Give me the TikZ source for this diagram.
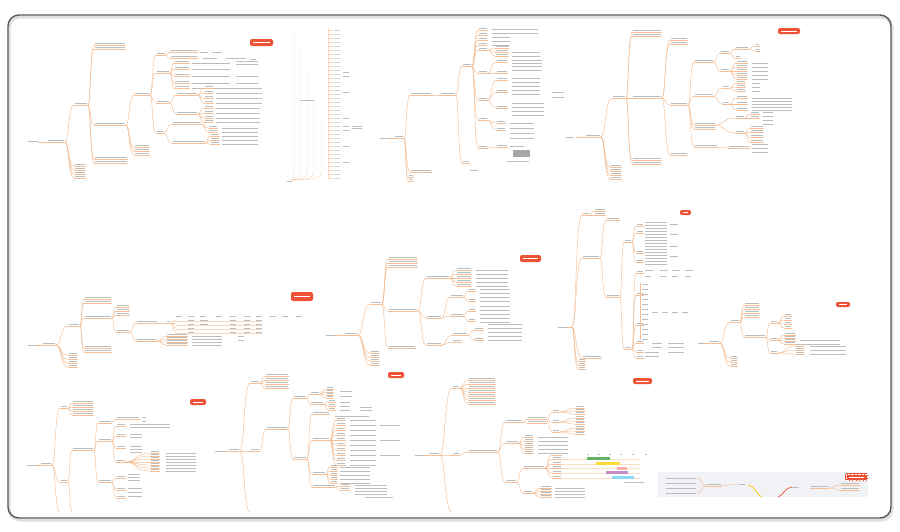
\documentclass[tikz,border=0pt]{standalone}
\usetikzlibrary{calc}
\definecolor{ol}{HTML}{F5BE94}
\definecolor{rd}{HTML}{EF5337}
\definecolor{txg}{HTML}{BDBDBD}
\definecolor{pan}{HTML}{F1F2F5}
\tikzset{
  cn/.style={draw=ol,line width=0.45pt},
  tb/.style={draw=txg,line width=0.95pt},
  frm/.style={draw=black!65,line width=1.4pt,rounded corners=11pt},
}
\newcommand\lk[4]{\draw[cn] (#1,#2) .. controls ({#1+0.45*(#3-#1)},#2) and ({#1+0.35*(#3-#1)},#4) .. (#3,#4);}
\newcommand\nd[3]{\draw[cn] (#1,#2) -- ++(#3,0); \draw[tb] ({#1+1},{#2-1.7}) -- ++({#3-2},0);}
\newcommand\tx[3]{\draw[tb] (#1,#2) -- ++(#3,0);}
\newcommand\fan[5]{\foreach \yy in {#4}{\lk{#1}{#2}{#3}{\yy}\nd{#3}{\yy}{#5}}}
\newcommand\rows[3]{\foreach \yy in {#2}{\draw[tb] (#1,\yy) -- ++(#3,0);}}
\newcommand\badge[4]{\fill[rd,rounded corners=2pt] (#1,#2) rectangle (#3,#4);
  \draw[white,line width=0.7pt] ({#1+3},{(#2+#4)/2}) -- ({#3-3},{(#2+#4)/2});}
\begin{document}
\begin{tikzpicture}[x=1pt,y=-1pt]
\useasboundingbox (0,0) rectangle (900,531);
\fill[white] (0,0) rectangle (900,531);
% frame
\draw[frm,draw=black!12,line width=3pt] (9,17) rectangle (892,520);
\draw[frm] (8,15) rectangle (891,518);

%%%%%%%% Map 1 (top-left)
\tx{28}{141}{10}
\draw[cn] (38,142) -- (47,142); \nd{47}{142}{18}
\lk{65}{142}{74}{105}\nd{74}{105}{14}
\fan{65}{142}{74}{166,170,174,178}{12}
\fan{88}{105}{94}{45,49}{32}
\fan{88}{105}{94}{125}{32}
\fan{88}{105}{94}{159,163}{34}
\fan{126}{125}{134}{95}{16}
\fan{126}{125}{134}{147,151,155}{16}
\fan{150}{95}{156}{55}{10}
\fan{150}{95}{156}{73,103}{14}
\fan{150}{95}{156}{133}{8}
\fan{166}{55}{170}{52,58}{28}
\rows{200}{52}{8}\rows{212}{52}{10}\rows{203}{58}{14}\rows{226}{58}{20}\rows{250}{59}{6}
\fan{170}{73}{174}{63,69,76,83,88}{16}
\rows{192}{63,69,76,83,88}{38}\rows{236}{61,64,76,83,88}{22}
\fan{170}{103}{176}{95,114}{22}
\fan{198}{95}{204}{88,93,98,103}{10}
\rows{216}{88,93,98,103}{46}
\fan{198}{114}{204}{108,113,118,122}{10}
\rows{216}{108,113,118,122}{44}
\fan{164}{133}{172}{124}{30}
\fan{164}{133}{172}{143}{34}
\fan{202}{124}{208}{128,132}{10}
\fan{206}{143}{210}{136,140,144}{10}
\rows{222}{128,132,136,140,144}{36}
\badge{250}{39}{273}{46}

%%%%%%%% Map 2 (faint column tree)
\tx{287}{181}{5}
\foreach \xx/\ya in {294/32,300/48,307/70,314/95,322/120}{
  \draw[cn,draw=ol!60] (291,180) .. controls (\xx,180) and (\xx,176) .. (\xx,170) -- (\xx,\ya);}
\foreach \yy in {30,34,...,178}{\draw[cn,draw=ol!60] (328,\yy)--++(5,0); \draw[tb,draw=txg!70] (334,\yy) -- ++(6,0);}
\draw[cn,draw=ol!60] (328,28) -- (328,178);
\rows{343}{72,76,92,118,126,130,146,162}{6}
\rows{352}{126,128}{10}
\tx{300}{100}{14}
\tx{380}{138}{6}

%%%%%%%% Map 3 (top middle)
\tx{383}{138}{6}
\draw[cn] (389,138) -- (394,138); \nd{394}{138}{10}
\fan{404}{138}{410}{95}{22}
\fan{404}{138}{410}{172}{22}
\fan{404}{138}{408}{177,181}{6}
\fan{432}{95}{440}{95}{16}
\fan{456}{95}{462}{66}{10}
\fan{456}{95}{462}{163}{8}
\fan{472}{66}{478}{30,35,40,45,50,73,100,120,148}{10}
\rows{492}{29,33}{46}\rows{492}{37,41,45}{18}
\fan{488}{50}{495}{48,52,56}{14}
\rows{512}{52,56}{28}
\fan{488}{73}{496}{62,73}{12}
\rows{512}{60,63,66,70}{30}
\fan{488}{100}{496}{80,92,108}{12}
\rows{512}{78,82,86,90,94}{28}
\rows{512}{103,107,111,115}{32}
\rows{552}{92,97}{12}
\fan{488}{120}{496}{123,130}{10}
\rows{510}{123,128,133,138}{24}
\fan{488}{148}{496}{147}{12}
\rows{510}{146}{14}
\fill[black!35] (513,150) rectangle (530,157);
\rows{507}{161}{22}
\tx{470}{170}{8}

%%%%%%%% Map 4 (top right)
\tx{566}{137}{8}
\draw[cn] (576,137) -- (585,137); \nd{585}{137}{16}
\fan{601}{137}{612}{98}{14}
\fan{601}{137}{610}{167,171,175,179}{12}
\fan{626}{98}{632}{32,36}{30}
\fan{626}{98}{632}{98}{30}
\fan{626}{98}{632}{160,164}{30}
\fan{662}{98}{670}{40,44,105,155}{18}
\fan{688}{105}{694}{62,96}{20}
\fan{688}{105}{694}{125,129}{22}
\fan{688}{105}{694}{147}{24}
\fan{714}{62}{720}{53,71}{10}
\fan{730}{53}{735}{49}{14}
\fan{730}{53}{735}{58}{6}
\fan{749}{49}{755}{46,51}{5}
\fan{730}{71}{736}{63,67,71,75,79}{12}
\rows{752}{63,67,71,75,79}{16}
\fan{714}{96}{722}{88,104}{8}
\fan{730}{88}{736}{83,87,91}{10}
\rows{752}{83,87,91}{8}
\fan{730}{104}{736}{98,104,110}{12}
\rows{752}{98,101,104,107,110}{40}
\fan{716}{125}{735}{118,133}{10}
\fan{745}{118}{750}{114,118}{10}
\rows{763}{112,116,120,124}{10}
\fan{745}{133}{750}{128,132,137,142}{14}
\fan{718}{147}{728}{148}{22}
\rows{752}{144,148,152}{16}
\badge{778}{28}{800}{34}

%%%%%%%% Map 5 (middle left)
\tx{28}{345}{8}
\draw[cn] (36,345) -- (42,345); \nd{42}{345}{14}
\fan{56}{345}{68}{326}{12}
\fan{56}{345}{68}{355,359,363,367}{10}
\fan{80}{326}{84}{299,303,318,348,352}{28}
\fan{112}{318}{116}{307,311,315,332}{14}
\fan{130}{332}{136}{323,341}{22}
\fan{158}{323}{166}{323}{5}
\foreach \xx in {176,188,200,216,230,244,256,270,282,296}{\draw[tb] (\xx,316) -- ++(6,0);}
\foreach \yy in {320,324,328,332}{\lk{171}{323}{176}{\yy}\foreach \xx in {188,230,244,256}{\draw[tb] (\xx,\yy) -- ++(6,0);}
  \draw[cn,draw=ol!60] (176,{\yy+1.2}) -- (262,{\yy+1.2});}
\rows{200}{320,324}{8}
\fan{158}{341}{166}{336,339,342,345}{22}
\rows{192}{336,339,342,345}{30}\rows{238}{336,340}{6}
\badge{291}{292}{313}{301}

%%%%%%%% Map 6 (middle centre)
\tx{326}{335}{8}
\draw[cn] (334,335) -- (344,335); \nd{344}{335}{14}
\fan{358}{335}{370}{304}{12}
\fan{358}{335}{370}{353,357,361,365}{10}
\fan{382}{304}{388}{259,263,267,311}{30}
\fan{382}{304}{388}{348}{28}
\fan{418}{311}{426}{278}{24}
\fan{418}{311}{426}{318,345}{16}
\fan{450}{278}{456}{270,274,278,282,286}{16}
\rows{476}{270,274,278,282,286}{32}
\fan{442}{318}{450}{297,316}{14}
\fan{464}{297}{468}{291,301}{8}
\rows{480}{289,293,297,301}{30}
\fan{464}{316}{468}{311,321}{8}
\rows{480}{306,310,314,318,322}{30}
\fan{442}{345}{452}{335}{16}
\fan{442}{345}{452}{342}{10}
\fan{468}{335}{474}{330,340}{10}
\rows{488}{324,328,332,336,340}{34}
\badge{520}{255}{541}{262}
\badge{388}{372}{404}{378}

%%%%%%%% Map 7 (middle right, tall)
\tx{558}{327}{8}
\draw[cn] (566,327) -- (572,327);
\fan{572}{327}{582}{215}{8}
\fan{572}{327}{582}{258}{18}
\fan{572}{327}{582}{358}{20}
\fan{572}{327}{578}{361,365,369}{8}
\fan{590}{215}{594}{211,215}{12}
\fan{600}{258}{606}{220,297}{14}
\fan{620}{297}{624}{242,349}{8}
\fan{632}{242}{636}{226,233,253,262}{8}
\fan{632}{349}{636}{273,295,325,343,352,358}{8}
\rows{645}{222,225,...,266}{22}
\rows{670}{224,234,246,256}{8}
\foreach \xx in {645,660,672,685}{\draw[tb] (\xx,270) -- ++(8,0); \draw[tb] (\xx,276) -- ++(6,0);}
\draw[cn] (640,283) -- (640,340);
\rows{642}{284,289,...,340}{6}
\foreach \xx in {652,662,672,682}{\draw[tb] (\xx,312) -- ++(6,0);}
\rows{652}{343,347}{10}\rows{668}{343,347,352}{16}
\rows{645}{352,356}{14}
\badge{680}{210}{691}{215}
\badge{633}{378}{652}{384}

%%%%%%%% Map 8 (far right middle)
\tx{698}{343}{6}
\draw[cn] (704,343) -- (708,343); \nd{708}{343}{12}
\fan{720}{343}{730}{322}{10}
\fan{720}{343}{730}{358,362,366}{8}
\fan{740}{322}{744}{305,309,313,317}{16}
\fan{740}{322}{744}{337}{22}
\fan{766}{337}{770}{323,340,353}{8}
\fan{778}{323}{784}{316,320,324,328}{8}
\fan{778}{340}{784}{335,338,341,344}{12}
\rows{800}{340,344}{40}
\fan{778}{353}{795}{346,350,354}{10}
\rows{810}{346,350,354}{36}
\badge{836}{302}{850}{307}

%%%%%%%% Map 9 (bottom left)
\tx{27}{465}{8}
\draw[cn] (35,465) -- (40,465); \nd{40}{465}{12}
\fan{52}{465}{60}{408,482}{8}
\lk{52}{465}{60}{512}
\fan{68}{408}{72}{403,407,411,415}{22}
\fan{68}{482}{72}{450}{22}
\lk{68}{482}{72}{512}
\fan{94}{450}{98}{423,441,482}{14}
\fan{112}{423}{116}{419}{24}
\rows{142}{417,421}{4}
\fan{112}{441}{116}{426,436,448,462}{10}
\rows{130}{424,427}{40}\rows{130}{434,437}{12}\rows{130}{446,449,452}{12}
\fan{126}{462}{150}{453,456,459,462,465,468,471}{10}
\rows{166}{453,456,459,462,465,468,471}{30}
\fan{112}{482}{116}{478,490,498}{10}
\rows{128}{474,477,480}{12}\rows{128}{488,492,496}{14}
\badge{190}{399}{206}{405}

%%%%%%%% Map 10 (bottom centre-left)
\tx{215}{451}{8}
\draw[cn] (223,451) -- (228,451); \nd{228}{451}{12}
\fan{240}{451}{250}{383,451}{10}
\lk{240}{451}{250}{512}
\fan{260}{383}{265}{376,380,384,388}{24}
\fan{260}{451}{266}{429}{22}
\fan{288}{429}{293}{398,459}{14}
\fan{307}{398}{310}{394}{10}
\fan{307}{398}{310}{404}{14}
\fan{320}{394}{326}{389,392,395,398}{8}
\rows{340}{391,396}{12}
\fan{324}{404}{328}{402,406,410}{8}
\rows{340}{402,406,410}{10}\rows{360}{407,410}{12}
\fan{307}{459}{312}{414,440}{18}
\fan{307}{459}{312}{474}{14}
\fan{307}{459}{312}{487}{24}
\rows{335}{416}{34}
\fan{330}{440}{336}{420,425,...,465}{10}
\rows{350}{420,425,...,465}{26}\rows{380}{425,440,455}{20}
\fan{326}{474}{330}{467,471,475,479,483}{8}
\rows{340}{467,471,475,479,483}{30}
\fan{336}{487}{340}{486,490}{10}
\rows{355}{485,488,491,494}{32}\rows{365}{497}{28}

%%%%%%%% Map 11 (bottom centre-right)
\tx{415}{455}{8}
\draw[cn] (423,455) -- (428,455); \nd{428}{455}{12}
\fan{440}{455}{452}{388,455}{8}
\lk{440}{455}{452}{512}
\fan{460}{388}{468}{380,384,388,392,396,400,404}{28}
\fan{460}{455}{468}{452}{30}
\fan{498}{452}{505}{422}{18}
\fan{498}{452}{505}{443}{14}
\fan{498}{452}{505}{482}{12}
\fan{523}{422}{527}{419,423}{20}
\fan{547}{421}{552}{412,422,432}{8}
\fan{560}{412}{575}{408,411,414}{10}
\fan{560}{422}{575}{418,421,424}{10}
\fan{560}{432}{575}{428,431,434}{10}
\fan{519}{443}{524}{437,441,445,449,453}{10}
\rows{538}{437,441,445,449,453}{30}
\fan{517}{482}{523}{468}{22}
\fan{517}{482}{523}{493}{10}
\fan{545}{468}{552}{455,459,464,468,473,478}{10}
\foreach \xx in {587,598,609,620,632,645}{\draw[txg,line width=0.7pt] (\xx,454) -- ++(2,0);}
\foreach \yy in {459,464,468,473,478}{\draw[cn,draw=ol!50] (562,\yy) -- (640,\yy);}
\fill[green!50!black!60] (587,456.5) rectangle (610,459.6);
\fill[yellow!70!orange!80] (596,461.8) rectangle (620,464.9);
\fill[pink!80!red!80] (617,466.5) rectangle (627,469.6);
\fill[violet!45] (606,471.3) rectangle (628,474.4);
\fill[cyan!45] (612,476.3) rectangle (634,479.4);
\rows{624}{482}{20}
\fan{533}{493}{540}{488,491,494,497}{12}
\rows{555}{488,491,494,497}{30}

%%%%%%%% bottom-right panel
\fill[pan] (658,472) rectangle (868,497);
\rows{666}{478,483,488,493}{30}
\draw[cn] (697,478) .. controls (702,478) and (701,486) .. (706,486);
\draw[cn] (697,493) .. controls (702,493) and (701,486) .. (706,486);
\nd{706}{486}{16}
\draw[cn] (722,486) -- (738,484); \tx{739}{484}{6}
\draw[draw=yellow!60!orange,line width=0.7pt] (748,485) .. controls (755,485) and (757,496) .. (762,497);
\draw[draw=rd,line width=0.7pt] (778,497) .. controls (783,496) and (785,487) .. (792,487);
\tx{792}{487}{7}
\nd{810}{488}{20}
\fan{830}{488}{840}{485,490}{20}
\fill[rd,rounded corners=2pt] (845,473) rectangle (868,481);
\draw[white,densely dotted,line width=0.4pt] (846,474) rectangle (867,480);
\draw[white,line width=0.7pt] (849,477) -- (864,477);
\end{tikzpicture}
\end{document}
